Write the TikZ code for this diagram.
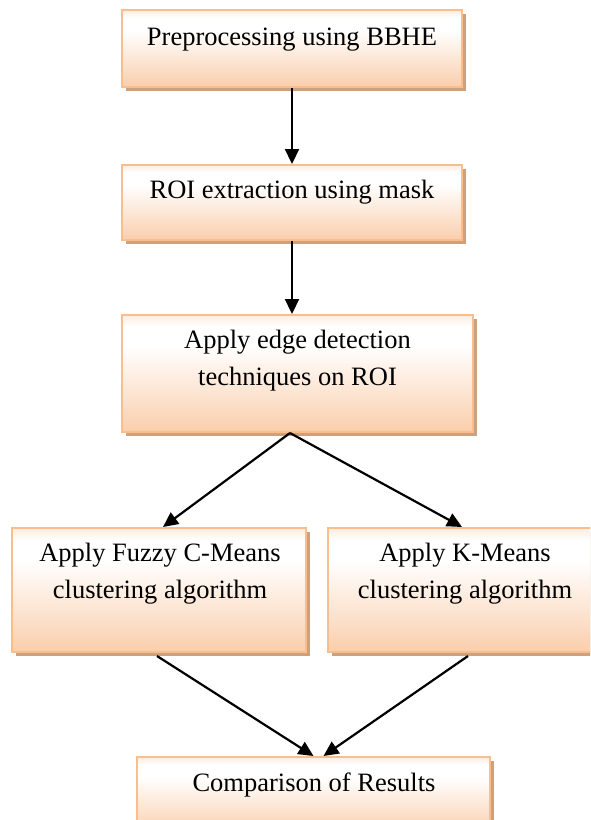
\documentclass[tikz,border=0pt]{standalone}
\usepackage{fontspec}
\setmainfont{Liberation Serif}
\usetikzlibrary{arrows.meta,shadows,calc}
\definecolor{pch}{RGB}{250,206,172}
\definecolor{pchtop}{RGB}{253,236,222}
\definecolor{bordc}{RGB}{249,190,140}
\definecolor{shadc}{RGB}{206,160,124}
\pgfdeclareverticalshading{boxshade}{100bp}{color(0bp)=(pch); color(25bp)=(pch); color(62bp)=(white); color(70bp)=(white); color(75bp)=(pchtop); color(100bp)=(pchtop)}
\tikzset{
  box/.style={draw=bordc, line width=2pt, shading=boxshade, rectangle, inner sep=0pt,
    drop shadow={shadow xshift=3.5pt, shadow yshift=-3.5pt, fill=shadc, opacity=1}},
  lbl/.style={align=center, inner sep=0pt, font=\fontsize{26.5}{37}\selectfont},
  arr/.style={line width=2.2pt, -{Triangle[length=15pt,width=14pt]}}
}
\begin{document}
\begin{tikzpicture}[x=1pt,y=-1pt]
\useasboundingbox (0,0) rectangle (590,820);
\clip (0,0) rectangle (590,820);
\node[box, minimum width=340pt, minimum height=77pt] (b1) at (292,48.5) {};
\node[lbl] (t1) at (292,40) {Preprocessing using BBHE};
\node[box, minimum width=340pt, minimum height=75pt] (b2) at (292,202.5) {};
\node[lbl] (t2) at (292,192) {ROI extraction using mask};
\node[box, minimum width=351pt, minimum height=117pt] (b3) at (297.5,373.5) {};
\node[lbl] (t3) at (297.5,360.5) {Apply edge detection\\techniques on ROI};
\node[box, minimum width=294pt, minimum height=124pt] (b4l) at (159,590) {};
\node[lbl] (t4l) at (160,574) {Apply Fuzzy C-Means\\clustering algorithm};
\node[box, minimum width=274pt, minimum height=124pt] (b4r) at (465,590) {};
\node[lbl] (t4r) at (465,574) {Apply K-Means\\clustering algorithm};
\node[box, minimum width=353pt, minimum height=77pt] (b5) at (313.5,795.5) {};
\node[lbl] (t5) at (314,785) {Comparison of Results};
\coordinate (c3) at ($(b3.south)+(-7.5,0)$);
\draw[arr] (b1.south) -- (b2.north);
\draw[arr] (b2.south) -- (b2.south |- b3.north);
\draw[arr] (c3) -- ($(b4l.north)+(4,0)$);
\draw[arr] (c3) -- ($(b4r.north)+(-3,0)$);
\draw[arr] ($(b4l.south)+(-2,3)$) -- (b5.north);
\draw[arr] ($(b4r.south)+(3,3)$) -- ($(b5.north)+(10,0)$);
\end{tikzpicture}
\end{document}
